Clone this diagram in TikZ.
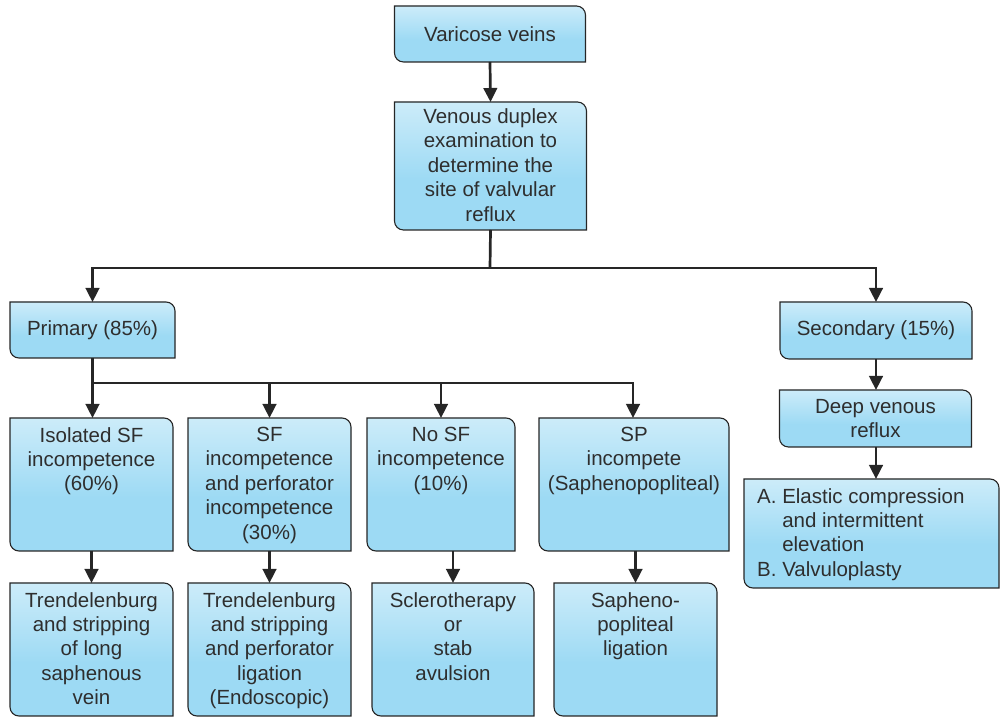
\documentclass[tikz,border=0pt]{standalone}
\usepackage{fontspec}
\setmainfont{Liberation Sans}
\usetikzlibrary{arrows.meta,backgrounds,calc}
\definecolor{txtcol}{HTML}{2E2E2E}
\definecolor{linecol}{HTML}{262626}
\definecolor{boxtop}{HTML}{F4FBFE}
\definecolor{boxbot}{HTML}{9DDAF4}
\definecolor{shadowcol}{HTML}{A8A8A8}
\pgfdeclareverticalshading{boxshade}{100bp}{color(0bp)=(boxbot); color(45bp)=(boxbot); color(100bp)=(boxtop)}
\newcommand{\boxshape}[1]{%
  (#1.north west) -- ([xshift=-9pt]#1.north east)
  arc[start angle=90,end angle=0,radius=9pt]
  -- (#1.south east) -- ([xshift=9pt]#1.south west)
  arc[start angle=270,end angle=180,radius=9pt] -- cycle}
\newcommand{\drawbox}[1]{%
  \fill[shadowcol,opacity=0.5,xshift=2.2pt,yshift=-2.2pt] \boxshape{#1};
  \path[shading=boxshade,draw=linecol,line width=1.1pt] \boxshape{#1};}
\tikzset{
  bx/.style={inner sep=0pt,outer sep=0pt,minimum width=#1},
  txt/.style={font=\fontsize{20.5}{24.4}\selectfont,text=txtcol,align=center,inner sep=0pt},
  arr/.style={draw=linecol,line width=2.7pt,-{Triangle[width=13.5pt,length=14pt]}},
  ln/.style={draw=linecol,line width=2.7pt}
}
\begin{document}
\begin{tikzpicture}[x=1pt,y=1pt]
\useasboundingbox (0,0) rectangle (1001,717);
% boxes (nodes)
\node[bx=191pt,minimum height=56pt] (vari) at (490,683) {};
\node[bx=192pt,minimum height=128pt] (dup) at (490.5,551) {};
\node[bx=165pt,minimum height=56pt] (prim) at (92.5,387) {};
\node[bx=192pt,minimum height=57pt] (sec) at (876,386.5) {};
\node[bx=163pt,minimum height=133pt] (iso) at (91.5,232.5) {};
\node[bx=163pt,minimum height=133pt] (sfp) at (269.5,232.5) {};
\node[bx=148pt,minimum height=133pt] (nosf) at (441,232.5) {};
\node[bx=190pt,minimum height=133pt] (sp) at (634,232.5) {};
\node[bx=163pt,minimum height=133pt] (tr1) at (91.5,67.5) {};
\node[bx=163pt,minimum height=133pt] (tr2) at (269.5,67.5) {};
\node[bx=162pt,minimum height=133pt] (scl) at (453,67.5) {};
\node[bx=163pt,minimum height=133pt] (sap) at (635.5,67.5) {};
\node[bx=192pt,minimum height=57pt] (deep) at (875.5,298.5) {};
\node[bx=255pt,minimum height=109pt] (ela) at (871.5,183.5) {};
\begin{pgfonlayer}{background}
\foreach \b in {vari,dup,prim,sec,iso,sfp,nosf,sp,tr1,tr2,scl,sap,deep,ela}{\drawbox{\b}}
\end{pgfonlayer}
% texts
\node[txt] (tvari) at ([yshift=-0.5pt]vari.center) {Varicose veins};
\node[txt] (tdup) at ([yshift=1pt]dup.center) {Venous duplex\\examination to\\determine the\\site of valvular\\reflux};
\node[txt] (tprim) at (prim.center) {Primary (85\%)};
\node[txt] (tsec) at (sec.center) {Secondary (15\%)};
\node[txt,anchor=north] (tiso) at ([yshift=-9pt]iso.north) {Isolated SF\\incompetence\\(60\%)};
\node[txt,anchor=north] (tsfp) at ([yshift=-9pt]sfp.north) {SF\\incompetence\\and perforator\\incompetence\\(30\%)};
\node[txt,anchor=north] (tnosf) at ([yshift=-9pt]nosf.north) {No SF\\incompetence\\(10\%)};
\node[txt,anchor=north] (tsp) at ([yshift=-9pt]sp.north) {SP\\incompete\\(Saphenopopliteal)};
\node[txt,anchor=north] (ttr1) at ([yshift=-9pt]tr1.north) {Trendelenburg\\and stripping\\of long\\saphenous\\vein};
\node[txt,anchor=north] (ttr2) at ([yshift=-9pt]tr2.north) {Trendelenburg\\and stripping\\and perforator\\ligation\\(Endoscopic)};
\node[txt,anchor=north] (tscl) at ([yshift=-9pt]scl.north) {Sclerotherapy\\or\\stab\\avulsion};
\node[txt,anchor=north] (tsap) at ([yshift=-9pt]sap.north) {Sapheno-\\popliteal\\ligation};
\node[txt] (tdeep) at (deep.center) {Deep venous\\reflux};
\node[txt,align=left,anchor=north west] (tela) at ([xshift=13pt,yshift=-9pt]ela.north west) {A. Elastic compression\\\hphantom{A.\ }and intermittent\\\hphantom{A.\ }elevation\\B. Valvuloplasty};
% connector coordinates
\coordinate (j1) at (490,449);
\coordinate (j1l) at (92.5,449);
\coordinate (j1r) at (876,449);
\coordinate (j2) at (92.5,334);
\coordinate (j2r) at (633,334);
% connectors
\draw[arr] (vari.south) -- (dup.north);
\draw[ln] (dup.south) -- (j1);
\draw[ln] ([xshift=-1.35pt]j1l) -- ([xshift=1.35pt]j1r);
\draw[arr] (j1l) -- (prim.north);
\draw[arr] (j1r) -- (sec.north);
\draw[ln] (prim.south) -- (j2);
\draw[ln] ([xshift=-1.35pt]j2) -- ([xshift=1.35pt]j2r);
\draw[arr] (j2) -- (iso.north -| j2);
\draw[arr] (j2 -| sfp.north) -- (sfp.north);
\draw[arr] (j2 -| nosf.north) -- (nosf.north);
\draw[arr] (j2r) -- (sp.north -| j2r);
\draw[arr] (iso.south) -- (tr1.north -| iso.south);
\draw[arr] (sfp.south) -- (tr2.north);
\draw[arr] (nosf.south -| scl.north) -- (scl.north);
\draw[arr] (sp.south -| sap.north) -- (sap.north);
\draw[arr] (sec.south) -- (deep.north -| sec.south);
\draw[arr] (deep.south -| sec.south) -- (ela.north -| sec.south);
\end{tikzpicture}
\end{document}
